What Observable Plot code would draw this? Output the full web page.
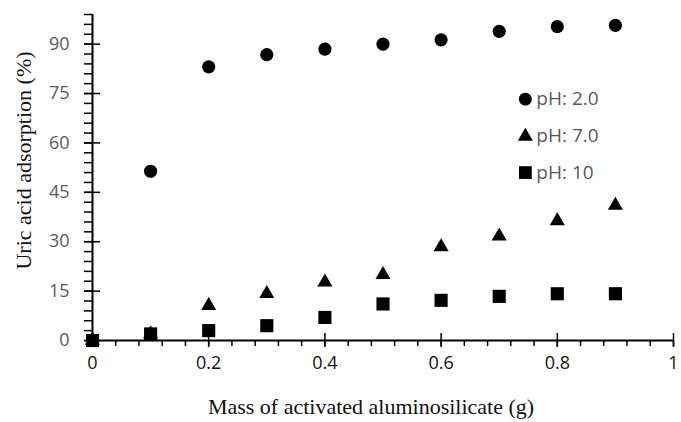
<!DOCTYPE html>
<html>
<head>
<meta charset="utf-8">
<script src="https://cdn.jsdelivr.net/npm/d3@7"></script>
<script src="https://cdn.jsdelivr.net/npm/@observablehq/plot@0.6"></script>
<style>
  html, body { margin: 0; padding: 0; background: #fff; }
  #chart { width: 681px; height: 422px; }
</style>
</head>
<body>
<div id="chart"></div>
<script>
// ---- data ----
const mass = [0, 0.1, 0.2, 0.3, 0.4, 0.5, 0.6, 0.7, 0.8, 0.9];
const ph2  = [0, 51.4, 83.1, 86.8, 88.5, 90.0, 91.3, 93.9, 95.3, 95.7];
const ph7  = [0, 2.0, 10.6, 14.2, 17.7, 20.0, 28.4, 31.7, 36.3, 41.0];
const ph10 = [0, 2.0, 3.0, 4.5, 7.0, 11.1, 12.2, 13.4, 14.2, 14.2];

const seriesNames = ["pH: 2.0", "pH: 7.0", "pH: 10"];
const seriesSymbols = ["circle", "triangle", "square"];
const legendX = 0.745;
const legendY = [73.3, 62.0, 51.0];

const xMajorTicks = [0, 0.2, 0.4, 0.6, 0.8, 1];
const yMajorTicks = [0, 15, 30, 45, 60, 75, 90];

const xTitle = "Mass of activated aluminosilicate (g)";
const yTitle = "Uric acid adsorption (%)";

const rows = (ys) => mass.map((m, i) => ({x: m, y: ys[i]}));
const legendRows = seriesNames.map((n, i) => ({name: n, symbol: seriesSymbols[i], y: legendY[i]}));

const xMinor = d3.range(0, 1.0001, 0.04);
const yMinor = d3.range(0, 99.5, 3);

const serif = "'Liberation Serif', 'Times New Roman', serif";
const W = 681, H = 422;
const plot = Plot.plot({
  width: W,
  height: H,
  marginLeft: 92,
  marginRight: 8,
  marginTop: 14,
  marginBottom: 82,
  style: {fontFamily: "'Open Sans', sans-serif", fontSize: "17px", background: "#fff", overflow: "visible"},
  x: {domain: [0, 1], axis: null},
  y: {domain: [0, 99], axis: null},
  marks: [
    // minor ticks
    Plot.axisY({ticks: yMinor, tickSize: 8, tickFormat: () => "", stroke: "#000", strokeWidth: 1.5, label: null}),
    Plot.axisX({ticks: xMinor, tickSize: 6, tickFormat: () => "", stroke: "#000", strokeWidth: 1.5, label: null}),
    // major ticks (crossing)
    Plot.axisY({ticks: yMajorTicks, tickSize: 16, dx: 8, tickFormat: () => "", stroke: "#000", strokeWidth: 1.5, label: null}),
    Plot.axisX({ticks: xMajorTicks, tickSize: 14, dy: -7, tickFormat: () => "", stroke: "#000", strokeWidth: 1.5, label: null}),
    // labels
    Plot.axisY({ticks: yMajorTicks, tickSize: 0, tickPadding: 23, tickFormat: d => String(d), fill: "#595959", fontSize: 18, label: null}),
    Plot.axisX({ticks: xMajorTicks, tickSize: 0, tickPadding: 16, tickFormat: d => String(d), fill: "#111", fontSize: 18, label: null}),
    // axis lines
    Plot.ruleX([0], {stroke: "#000", strokeWidth: 2}),
    Plot.ruleY([0], {stroke: "#000", strokeWidth: 2}),
    // data
    Plot.dot(rows(ph2), {x: "x", y: "y", symbol: "circle", r: 6.6, fill: "#000", stroke: "none"}),
    Plot.dot(rows(ph7), {x: "x", y: "y", symbol: "triangle", r: 5.6, fill: "#000", stroke: "none"}),
    Plot.dot(rows(ph10), {x: "x", y: "y", symbol: "square", r: 7.4, fill: "#000", stroke: "none"}),
    // legend
    Plot.dot(legendRows.slice(0,1), {x: () => legendX, y: "y", symbol: "circle", r: 6.4, fill: "#000", stroke: "none"}),
    Plot.dot(legendRows.slice(1,2), {x: () => legendX, y: "y", symbol: "triangle", r: 5.6, fill: "#000", stroke: "none"}),
    Plot.dot(legendRows.slice(2,3), {x: () => legendX, y: "y", symbol: "square", r: 7.2, fill: "#000", stroke: "none"}),
    Plot.text(legendRows, {x: () => legendX, y: "y", text: "name", dx: 11, textAnchor: "start", fill: "#595959", fontSize: 19}),
    // axis titles
    Plot.text([xTitle], {frameAnchor: "bottom", dx: -12, dy: 73, text: d => d, textAnchor: "middle", fontFamily: serif, fontSize: 22, fill: "#111"}),
    Plot.text([yTitle], {frameAnchor: "left", dx: -69, dy: -17, rotate: -90, text: d => d, textAnchor: "middle", fontFamily: serif, fontSize: 22, fill: "#111"})
  ]
});
document.getElementById("chart").appendChild(plot);
</script>
</body>
</html>
